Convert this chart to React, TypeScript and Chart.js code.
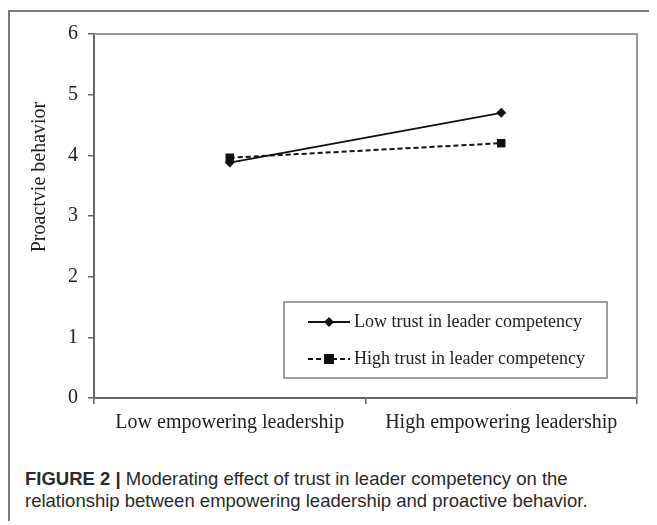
import React, { useEffect, useRef } from "react";
import { Chart, registerables } from "chart.js";

Chart.register(...registerables);

const categories = ["Low empowering leadership", "High empowering leadership"];
const lowTrust = [3.88, 4.7];
const highTrust = [3.96, 4.2];
const seriesLabels = ["Low trust in leader competency", "High trust in leader competency"];
const yTitle = "Proactvie behavior";
const yMin = 0;
const yMax = 6;

const SERIF = "'Liberation Serif', 'Times New Roman', serif";

const framePlugin = {
  id: "frameAndLegend",
  afterDraw(chart: any) {
    const { ctx, chartArea } = chart;
    const { left, right, top, bottom } = chartArea;
    ctx.save();
    ctx.strokeStyle = "#9a9a9a";
    ctx.lineWidth = 2;
    ctx.beginPath();
    ctx.moveTo(left, top);
    ctx.lineTo(right, top);
    ctx.lineTo(right, bottom);
    ctx.stroke();

    ctx.fillStyle = "#222";
    ctx.font = `20px ${SERIF}`;
    ctx.save();
    ctx.translate(left - 54, top + 143);
    ctx.rotate(-Math.PI / 2);
    ctx.textAlign = "center";
    ctx.textBaseline = "middle";
    ctx.fillText(yTitle, 0, 0);
    ctx.restore();

    const bx = left + 190;
    const by = top + 268;
    const bw = 323;
    const bh = 76;
    ctx.fillStyle = "#fff";
    ctx.fillRect(bx, by, bw, bh);
    ctx.strokeStyle = "#808080";
    ctx.lineWidth = 1.5;
    ctx.strokeRect(bx, by, bw, bh);

    const rows = [by + 20, by + 57];
    chart.data.datasets.forEach((ds: any, i: number) => {
      const y = rows[i];
      const x0 = bx + 24;
      const x1 = bx + 66;
      ctx.strokeStyle = "#111";
      ctx.lineWidth = 1.8;
      ctx.setLineDash(ds.borderDash || []);
      ctx.beginPath();
      ctx.moveTo(x0, y);
      ctx.lineTo(x1, y);
      ctx.stroke();
      ctx.setLineDash([]);
      ctx.fillStyle = "#111";
      const cx = (x0 + x1) / 2;
      if (ds.pointStyle === "rect") {
        ctx.fillRect(cx - 5, y - 5, 10, 10);
      } else {
        ctx.beginPath();
        ctx.moveTo(cx, y - 5);
        ctx.lineTo(cx + 5, y);
        ctx.lineTo(cx, y + 5);
        ctx.lineTo(cx - 5, y);
        ctx.closePath();
        ctx.fill();
      }
      ctx.fillStyle = "#222";
      ctx.font = `18px ${SERIF}`;
      ctx.textAlign = "left";
      ctx.textBaseline = "middle";
      ctx.fillText(ds.label, x1 + 4, y);
    });
    ctx.restore();
  },
};

export default function App() {
  const canvasRef = useRef<HTMLCanvasElement | null>(null);

  useEffect(() => {
    if (!canvasRef.current) return;
    const chart = new Chart(canvasRef.current, {
      type: "line",
      data: {
        labels: categories,
        datasets: [
          {
            label: seriesLabels[0],
            data: lowTrust,
            borderColor: "#111",
            backgroundColor: "#111",
            borderWidth: 2,
            pointStyle: "rectRot",
            pointRadius: 5,
            pointBorderWidth: 0,
            tension: 0,
          },
          {
            label: seriesLabels[1],
            data: highTrust,
            borderColor: "#111",
            backgroundColor: "#111",
            borderWidth: 2,
            borderDash: [5, 3],
            pointStyle: "rect",
            pointRadius: 6,
            pointBorderWidth: 0,
            tension: 0,
          },
        ],
      },
      options: {
        animation: false,
        responsive: false,
        devicePixelRatio: 1,
        layout: { padding: { top: 22, right: 13, left: 0, bottom: 0 } },
        plugins: { legend: { display: false }, tooltip: { enabled: false } },
        scales: {
          x: {
            type: "category",
            offset: true,
            grid: {
              offset: true,
              drawOnChartArea: false,
              drawTicks: true,
              tickLength: 6,
              color: "#666",
              lineWidth: 1.5,
            },
            border: { color: "#666", width: 2 },
            ticks: {
              color: "#222",
              padding: 7,
              font: { family: SERIF, size: 20 },
              maxRotation: 0,
            },
            afterFit: (s: any) => {
              s.height = 54;
            },
          },
          y: {
            min: yMin,
            max: yMax,
            grid: {
              drawOnChartArea: false,
              drawTicks: true,
              tickLength: 6,
              color: "#666",
              lineWidth: 1.5,
            },
            border: { color: "#666", width: 2 },
            ticks: {
              stepSize: 1,
              color: "#222",
              padding: 10,
              font: { family: SERIF, size: 20 },
            },
            afterFit: (s: any) => {
              s.width = 84;
            },
          },
        },
      },
      plugins: [framePlugin],
    });
    return () => chart.destroy();
  }, []);

  return (
    <div style={{ paddingTop: 2 }}>
      <div
        style={{
          position: "relative",
          width: 645,
          height: 509,
          borderTop: "2px solid #7a7a7a",
          borderLeft: "2px solid #7a7a7a",
          background: "#fff",
        }}
      >
        <canvas
          ref={canvasRef}
          width={640}
          height={440}
          style={{ position: "absolute", left: 0, top: 0, width: 640, height: 440 }}
        />
        <div
          style={{
            position: "absolute",
            left: 15,
            top: 456,
            width: 570,
            fontFamily: "'Liberation Sans', Arial, sans-serif",
            fontSize: 18.5,
            lineHeight: "22px",
            color: "#2a2a2a",
          }}
        >
          <span style={{ fontWeight: "bold" }}>FIGURE 2 |</span> Moderating effect of trust in leader
          competency on the relationship between empowering leadership and proactive behavior.
        </div>
      </div>
    </div>
  );
}
